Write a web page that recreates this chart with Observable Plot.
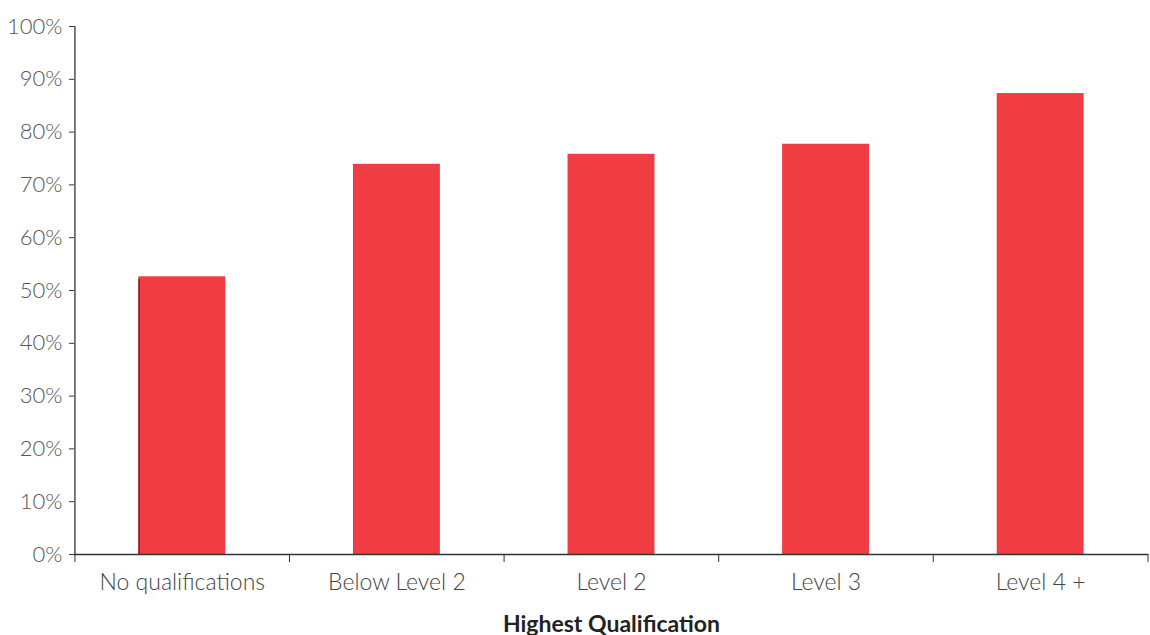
<!DOCTYPE html>
<html>
<head>
<meta charset="utf-8">
<script src="https://cdn.jsdelivr.net/npm/d3@7"></script>
<script src="https://cdn.jsdelivr.net/npm/@observablehq/plot@0.6"></script>
<style>
  html, body { margin: 0; padding: 0; background: #fff; }
  #chart svg { display: block; }
</style>
</head>
<body>
<div id="chart"></div>
<script>
const categories = ["No qualifications", "Below Level 2", "Level 2", "Level 3", "Level 4 +"];
const values = [52.6, 73.9, 75.8, 77.7, 87.3];
const yTicks = [0, 10, 20, 30, 40, 50, 60, 70, 80, 90, 100];
const xTitle = "Highest Qualification";

const data = categories.map((c, i) => ({category: c, value: values[i]}));

const W = 1150, H = 635;
const mL = 74, mR = 2, mT = 26, mB = 81;
const step = (W - mL - mR) / categories.length;
const font = "Lato, 'Open Sans', sans-serif";

const chart = Plot.plot({
  width: W,
  height: H,
  marginLeft: mL,
  marginRight: mR,
  marginTop: mT,
  marginBottom: mB,
  style: {fontFamily: font, background: "#fff"},
  x: {domain: categories, paddingInner: 0.595, paddingOuter: 0.3, round: false, label: null},
  y: {domain: [0, 100], label: null},
  marks: [
    Plot.barY(data, {x: "category", y: "value", fill: "#f03d43"}),
    Plot.barY(data.slice(0, 1), {x: "category", y1: 0, y2: d => d.value - 0.5, fill: "#7a1c1f", insetRight: 85.5}),
    // y axis
    Plot.axisY(yTicks, {
      tickSize: 5, tickPadding: 7, stroke: "#333",
      tickFormat: d => d + "%", fontSize: 22, fontWeight: 300, fill: "#555", label: null
    }),
    Plot.ruleX(categories.slice(0, 1), {x: d => d, dx: -step / 2, y1: 0, y2: 100, stroke: "#333", strokeWidth: 1.3}),
    Plot.ruleY([0], {stroke: "#333", strokeWidth: 1.3}),
    // x axis boundary ticks
    Plot.axisX(categories, {tickSize: 8, dx: -step / 2, tickFormat: () => "", stroke: "#333", label: null}),
    Plot.axisX(categories.slice(-1), {tickSize: 8, dx: step / 2, tickFormat: () => "", stroke: "#333", label: null}),
    // x labels
    Plot.axisX(categories, {tickSize: 0, tickPadding: 19, fontSize: 23, fontWeight: 300, fill: "#444", label: null}),
    Plot.text([xTitle], {frameAnchor: "bottom", dy: 77, text: d => d, fontSize: 23, fontWeight: 700, fill: "#222"})
  ]
});
document.getElementById("chart").appendChild(chart);
</script>
</body>
</html>
